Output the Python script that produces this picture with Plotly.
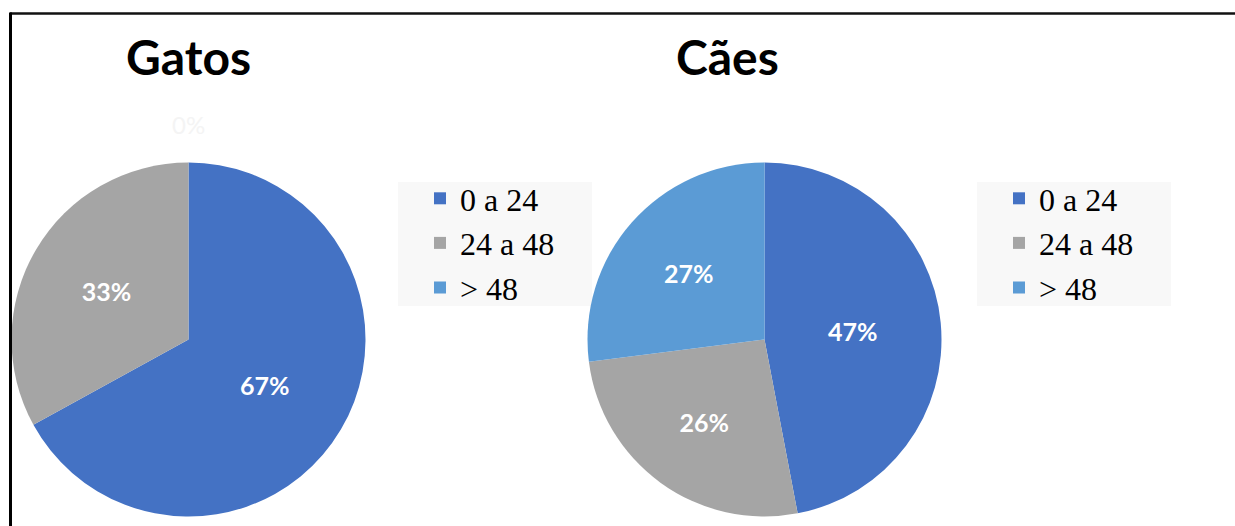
import plotly.graph_objects as go

# ---- data ----
categories = ["0 a 24", "24 a 48", "> 48"]
gatos_values = [67, 33, 0]
caes_values = [47, 26, 27]
titles = ["Gatos", "Cães"]
colors = ["#4472C4", "#A5A5A5", "#5B9BD5"]

W, H = 1235, 526


def px_x(v):
    return v / W


def px_y(v):
    return 1 - v / H


R = 177  # pie radius in px
centers = [(188.5, 339.5), (764.5, 339.5)]


def domain(cx, cy):
    return dict(x=[px_x(cx - R), px_x(cx + R)],
                y=[px_y(cy + R), px_y(cy - R)])


label_font = dict(family="Lato", size=25, color="white", weight="bold")

# Plotly merges pie legend entries with identical labels across traces, so the
# second pie's labels carry a trailing (invisible) space to get their own legend.
label_sets = [categories, [c + " " for c in categories]]

fig = go.Figure()
for i, (vals, leg) in enumerate([(gatos_values, "legend"), (caes_values, "legend2")]):
    cx, cy = centers[i]
    fig.add_trace(go.Pie(
        labels=label_sets[i],
        values=vals,
        marker=dict(colors=colors, line=dict(width=0)),
        sort=False,
        direction="clockwise",
        rotation=0,
        textinfo="percent",
        texttemplate="%{percent:.0%}",
        textposition="inside",
        insidetextorientation="horizontal",
        insidetextfont=label_font,
        domain=domain(cx, cy),
        legend=leg,
        hoverinfo="label+percent",
        showlegend=True,
    ))

legend_common = dict(
    font=dict(family="Liberation Serif", size=32, color="black"),
    bgcolor="rgba(0,0,0,0)",
    borderwidth=0,
    xanchor="left",
    yanchor="top",
    itemclick=False,
    itemdoubleclick=False,
    tracegroupgap=0,
)

shapes = [
    # legend backgrounds
    dict(type="rect", xref="paper", yref="paper", layer="below",
         x0=px_x(398), x1=px_x(592), y0=px_y(306), y1=px_y(182),
         fillcolor="#f8f8f8", line=dict(width=0)),
    dict(type="rect", xref="paper", yref="paper", layer="below",
         x0=px_x(977), x1=px_x(1171), y0=px_y(306), y1=px_y(182),
         fillcolor="#f8f8f8", line=dict(width=0)),
    # frame
    dict(type="line", xref="paper", yref="paper",
         x0=px_x(10), x1=px_x(1235), y0=px_y(13.5), y1=px_y(13.5),
         line=dict(color="#111111", width=2.5)),
    dict(type="line", xref="paper", yref="paper",
         x0=px_x(10.5), x1=px_x(10.5), y0=px_y(12.5), y1=px_y(526),
         line=dict(color="#000000", width=3)),
]

annotations = [
    dict(text=titles[0], x=px_x(188.5), y=px_y(57), xref="paper", yref="paper",
         showarrow=False, xanchor="center", yanchor="middle",
         font=dict(family="Lato", size=48, color="black", weight="bold")),
    dict(text=titles[1], x=px_x(727.5), y=px_y(57), xref="paper", yref="paper",
         showarrow=False, xanchor="center", yanchor="middle",
         font=dict(family="Lato", size=48, color="black", weight="bold")),
    # zero slice label of "Gatos" (white text above the pie)
    dict(text=f"{gatos_values[2]}%", x=px_x(188.5), y=px_y(124), xref="paper", yref="paper",
         showarrow=False, xanchor="center", yanchor="middle",
         font=dict(family="Lato", size=24, color="#f4f4f4")),
]

fig.update_layout(
    width=W, height=H,
    margin=dict(l=0, r=0, t=0, b=0),
    paper_bgcolor="white",
    plot_bgcolor="white",
    legend=dict(x=px_x(420), y=px_y(171), **legend_common),
    legend2=dict(x=px_x(999), y=px_y(171), **legend_common),
    shapes=shapes,
    annotations=annotations,
)

fig.write_html("out.html")
